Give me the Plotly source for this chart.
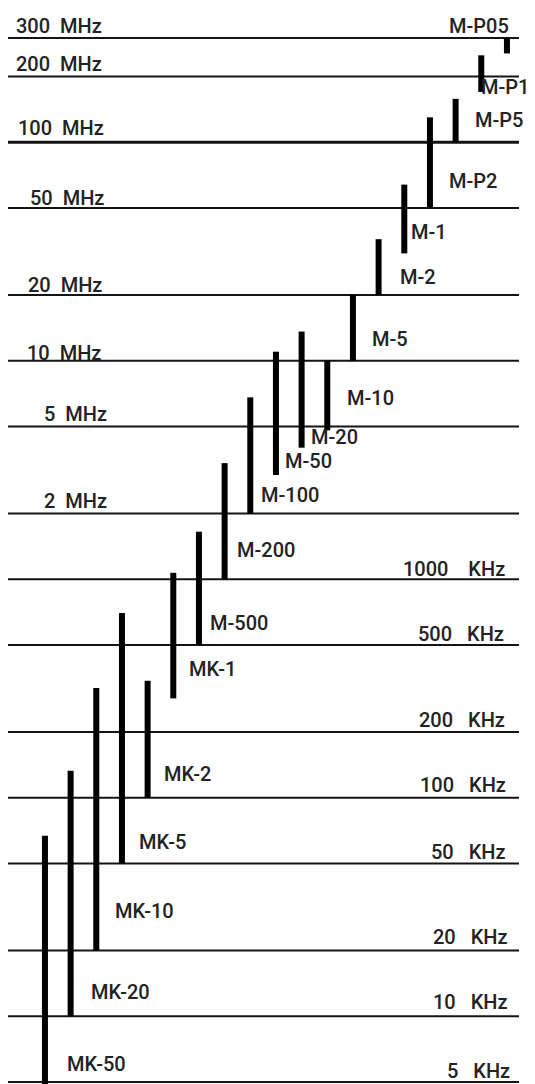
import math
import plotly.graph_objects as go

# ---------------- data ----------------
bar_names = ["MK-50", "MK-20", "MK-10", "MK-5", "MK-2", "MK-1", "M-500", "M-200",
             "M-100", "M-50", "M-20", "M-10", "M-5", "M-2", "M-1", "M-P2", "M-P5",
             "M-P1", "M-P05"]
bar_low_hz = [4.9e3, 10e3, 20e3, 50e3, 100e3, 285e3, 500e3, 1e6, 2e6, 3e6, 4e6,
              4.8e6, 10e6, 20e6, 31e6, 50e6, 100e6, 170e6, 255e6]
bar_high_hz = [67e3, 133e3, 318e3, 700e3, 343e3, 1.07e6, 1.65e6, 3.4e6, 6.8e6, 11e6,
               13.6e6, 10e6, 20e6, 36e6, 64e6, 130e6, 158e6, 250e6, 300e6]

grid_hz = [300e6, 200e6, 100e6, 50e6, 20e6, 10e6, 5e6, 2e6,
           1e6, 500e3, 200e3, 100e3, 50e3, 20e3, 10e3, 5e3]
grid_numbers = ["300", "200", "100", "50", "20", "10", "5", "2",
                "1000", "500", "200", "100", "50", "20", "10", "5"]
grid_units = ["MHz"] * 8 + ["KHz"] * 8

# ---------------- style ----------------
FONT = "Roboto"
FSIZE = 20
TXT = "#232323"
INK = "#141414"
X_MIN, X_MAX = -1.44, 18.47
# bar label offsets (pixels) relative to the bottom of each bar
label_dx = [20, 18, 17, 15, 14, 14, 9, 10, 9, 7, 7, 18, 17, 19, 5, 17, 17, -2, -60]
label_dy = [20, 24, 39, 22, 24, 29, 22, 29, 18, 14, 11, 32, 22, 18, 21, 27, 22, 5, 12]
# frequency label placement
left_right_edge = [96, 96, 98, 98, 96, 95, 101, 101]
right_right_edge = [-12, -13, -12, -11, -11, -9, -9, -7]
baseline_gap = [5, 5, 7, 3, 3, 1, 6, 5, 3, 4, 5, 6, 5, 6, 7, 4]

fig = go.Figure()

# horizontal frequency lines
for f in grid_hz:
    fig.add_trace(go.Scatter(
        x=[X_MIN, X_MAX], y=[f, f], mode="lines",
        line=dict(color=INK, width=3 if f == 100e6 else 2),
        hoverinfo="skip", showlegend=False))

# vertical bars
bx, by = [], []
for i, (lo, hi) in enumerate(zip(bar_low_hz, bar_high_hz)):
    bx += [i, i, None]
    by += [lo, hi, None]
fig.add_trace(go.Scatter(x=bx, y=by, mode="lines",
                         line=dict(color="#000000", width=6),
                         hoverinfo="skip", showlegend=False))

font = dict(family=FONT, size=FSIZE, color=TXT, weight=500)
annotations = []
for i, (name, lo) in enumerate(zip(bar_names, bar_low_hz)):
    y = math.log10(lo)
    if name == "M-P05":
        y = math.log10(bar_high_hz[i])
    annotations.append(dict(
        x=i, y=y, xref="x", yref="y", text=name, showarrow=False,
        xanchor="left", yanchor="middle", xshift=label_dx[i], yshift=label_dy[i],
        font=font))

NB = "\u00a0"
for k, (f, num, unit) in enumerate(zip(grid_hz, grid_numbers, grid_units)):
    ys = baseline_gap[k] - 7
    if unit == "MHz":
        annotations.append(dict(
            x=0, y=math.log10(f), xref="paper", yref="y", text=num + NB * 2 + unit,
            showarrow=False, xanchor="right", yanchor="bottom",
            xshift=left_right_edge[k], yshift=ys, font=font))
    else:
        gap = NB * (4 if num == "1000" else 3)
        annotations.append(dict(
            x=1, y=math.log10(f), xref="paper", yref="y", text=num + gap + unit,
            showarrow=False, xanchor="right", yanchor="bottom",
            xshift=right_right_edge[k - 8], yshift=ys, font=font))

# y range so that 300 MHz sits 8 px below the plot top and 5 KHz 2 px above its bottom
top_db = math.log10(300e6)
bot_db = math.log10(5e3)
ppd = (1082 - 38) / (top_db - bot_db)
y_range = [bot_db - 2 / ppd, top_db + 8 / ppd]

fig.update_layout(
    width=527, height=1076,
    margin=dict(l=0, r=16, t=22, b=0),
    paper_bgcolor="white", plot_bgcolor="white",
    xaxis=dict(range=[X_MIN, X_MAX], visible=False),
    yaxis=dict(type="log", range=y_range, visible=False),
    annotations=annotations,
)

fig.write_html("out.html")
